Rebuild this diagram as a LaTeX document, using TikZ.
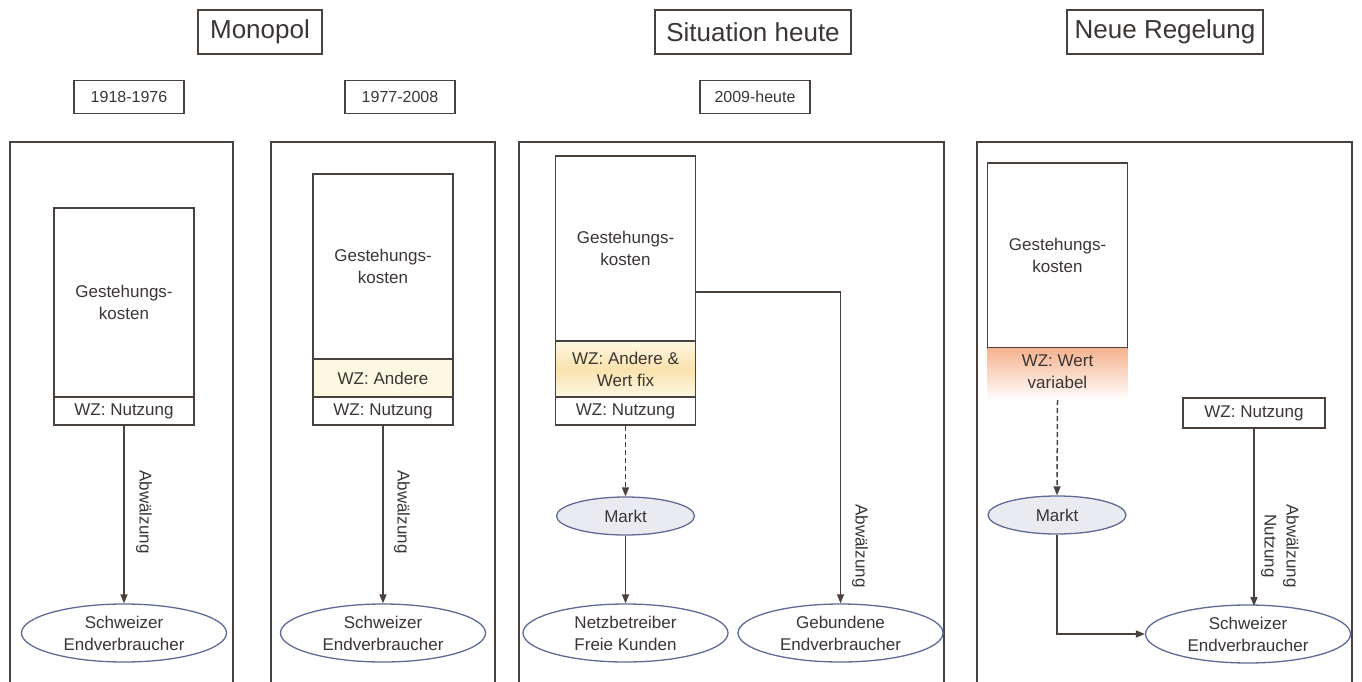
\documentclass[tikz,border=0pt]{standalone}
\usepackage{fontspec}
\setmainfont{Liberation Sans}
\usetikzlibrary{arrows.meta,shapes.geometric}
\definecolor{ln}{HTML}{4A403C}
\definecolor{tx}{HTML}{3B3533}
\definecolor{el}{HTML}{5D6A98}
\definecolor{elfill}{HTML}{E9EBF1}
\definecolor{ylw}{HTML}{FCF8E2}
\definecolor{ylwm}{HTML}{FBE2AE}
\definecolor{sal}{HTML}{F5B28E}
\tikzset{
  every node/.style={text=tx, font=\fontsize{17}{22}\selectfont, align=center, inner sep=0pt},
  frame/.style={draw=ln, line width=1.6pt, minimum width=#1, minimum height=560},
  titlebox/.style={draw=ln, line width=1.5pt, minimum height=44, minimum width=#1, font=\fontsize{26}{30}\selectfont},
  yearbox/.style={draw=ln, line width=1.4pt, minimum height=33, minimum width=110, font=\fontsize{16}{20}\selectfont},
  costbox/.style={draw=ln, line width=1.5pt, minimum width=140, minimum height=#1},
  wzbox/.style={draw=ln, line width=1.5pt, minimum width=140, minimum height=#1},
  oval/.style={ellipse, draw=el, line width=1.3pt, fill=white, minimum width=205, minimum height=58},
  markt/.style={ellipse, draw=el, line width=1.3pt, fill=elfill, minimum width=138, minimum height=38},
  arr/.style={draw=ln, line width=1.5pt, -{Triangle[length=9pt,width=7pt]}},
  darr/.style={arr, dash pattern=on 5pt off 3pt},
  lbl/.style={rotate=-90}
}
\begin{document}
\begin{tikzpicture}[x=1pt,y=-1pt]
\useasboundingbox (0,0) rectangle (1362,682);
\clip (0,0) rectangle (1362,682);
% titles
\node[titlebox=124] (t1) at (260,32) {Monopol};
\node[titlebox=196] (t2) at (753,32) {Situation heute};
\node[titlebox=196] (t3) at (1165,32) {Neue Regelung};
\node[yearbox] (y1) at (129,97) {1918-1976};
\node[yearbox] (y2) at (400,97) {1977-2008};
\node[yearbox] (y3) at (755,97) {2009-heute};
% frames
\node[frame=223] (f1) at (121.5,422) {};
\node[frame=224] (f2) at (383,422) {};
\node[frame=425] (f3) at (731.5,422) {};
\node[frame=375] (f4) at (1164.5,422) {};
% panel 1
\node[costbox=189] (g1) at (124,302.5) {Gestehungs-\\kosten};
\node[wzbox=28] (n1) at (124,411) {WZ: Nutzung};
\node[oval] (e1) at (124,633) {Schweizer\\Endverbraucher};
\draw[arr] (n1.south) -- (e1.north);
\node[lbl] (l1) at (144,512) {Abwälzung};
% panel 2
\node[costbox=185] (g2) at (383,266.5) {Gestehungs-\\kosten};
\node[wzbox=38, fill=ylw] (a2) at (383,378) {WZ: Andere};
\node[wzbox=28] (n2) at (383,411) {WZ: Nutzung};
\node[oval] (e2) at (383,633) {Schweizer\\Endverbraucher};
\draw[arr] (n2.south) -- (e2.north);
\node[lbl] (l2) at (402,512) {Abwälzung};
% panel 3
\node[costbox=185] (g3) at (625.5,248.5) {Gestehungs-\\kosten};
\node[wzbox=56, top color=ylw, bottom color=ylw, middle color=ylwm] (a3) at (625.5,369) {WZ: Andere \&\\Wert fix};
\node[wzbox=28] (n3) at (625.5,411) {WZ: Nutzung};
\node[markt] (m3) at (625.5,516) {Markt};
\node[oval] (e3) at (625.5,633) {Netzbetreiber\\Freie Kunden};
\node[oval] (e3b) at (840.5,633) {Gebundene\\Endverbraucher};
\coordinate (c3) at (695.5,292);
\draw[darr] (n3.south) -- (m3.north);
\draw[arr] (m3.south) -- (e3.north);
\draw[arr] (c3) -| (e3b.north);
\node[lbl] (l3) at (860,546) {Abwälzung};
% panel 4
\node[costbox=185] (g4) at (1057.5,255.5) {Gestehungs-\\kosten};
\node[minimum width=140, minimum height=52, top color=sal, middle color=sal!80, bottom color=white, shading angle=0] (w4) at (1057.5,374) {};
\node (w4t) at (1057.5,372) {WZ: Wert\\variabel};
\node[markt] (m4) at (1057,515) {Markt};
\node[wzbox=30, minimum width=142] (n4) at (1254,413) {WZ: Nutzung};
\node[oval] (e4) at (1248,634) {Schweizer\\Endverbraucher};
\draw[darr] (w4.south) -- (m4.north);
\draw[arr] (m4.south) |- (e4.west);
\coordinate (c4) at (1254,606);
\draw[arr] (n4.south) -- (c4);
\node[lbl] (l4) at (1280,546) {Abwälzung\\Nutzung};
\end{tikzpicture}
\end{document}
